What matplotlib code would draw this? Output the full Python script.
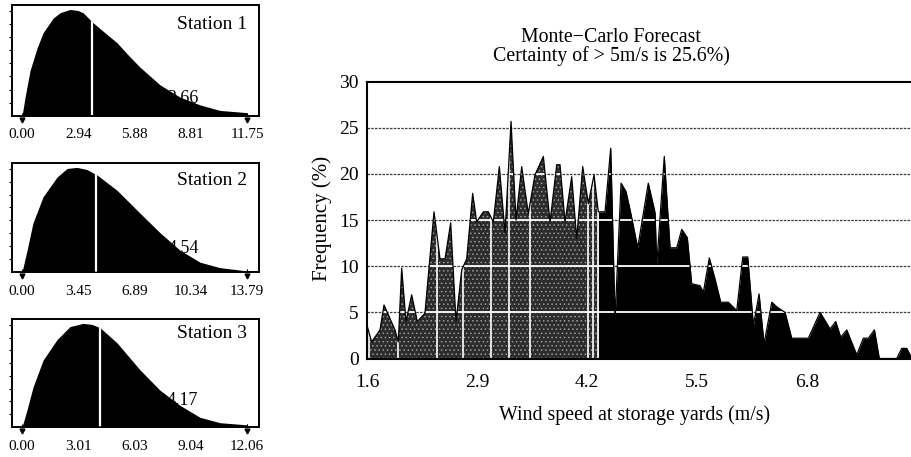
import matplotlib.pyplot as plt
import numpy as np
from matplotlib.patches import Polygon
from matplotlib.ticker import MultipleLocator, AutoMinorLocator

plt.rcParams['font.family'] = ['Liberation Serif', 'DejaVu Serif']
plt.rcParams['hatch.linewidth'] = 0.6

# %% Data
# fitted wind speed distributions per station (relative height)
station_names = ['Station 1', 'Station 2', 'Station 3']
station_means = [3.66, 4.54, 4.17]
station_ticks = [
    [0.00, 2.94, 5.88, 8.81, 11.75],
    [0.00, 3.45, 6.89, 10.34, 13.79],
    [0.00, 3.01, 6.03, 9.04, 12.06],
]
st1_x = [0, 0.16, 0.42, 0.78, 1.10, 1.62, 1.98, 2.51, 2.92, 3.19, 3.71, 4.33, 4.96, 5.54, 6.16, 7.21, 8.25, 9.29, 10.34, 11.75]
st1_y = [0, 0.17, 0.41, 0.61, 0.75, 0.88, 0.93, 0.96, 0.95, 0.93, 0.84, 0.75, 0.66, 0.55, 0.44, 0.28, 0.17, 0.10, 0.05, 0.03]
st2_x = [0, 0.31, 0.67, 1.29, 2.14, 2.76, 3.37, 3.98, 4.60, 5.82, 7.23, 8.46, 9.68, 10.91, 12.13, 13.79]
st2_y = [0, 0.20, 0.45, 0.69, 0.87, 0.95, 0.96, 0.94, 0.89, 0.75, 0.54, 0.36, 0.20, 0.09, 0.04, 0.01]
st3_x = [0, 0.27, 0.59, 1.13, 1.88, 2.57, 3.27, 3.75, 4.18, 5.09, 6.32, 7.40, 8.47, 9.54, 10.61, 12.06]
st3_y = [0, 0.16, 0.37, 0.62, 0.81, 0.93, 0.96, 0.95, 0.92, 0.78, 0.53, 0.34, 0.20, 0.09, 0.04, 0.02]
station_curves = [(st1_x, st1_y), (st2_x, st2_y), (st3_x, st3_y)]

# Monte-Carlo histogram of wind speed at the storage yards
speed = np.array([
    1.60, 1.655, 1.754, 1.801, 1.931, 1.970, 2.010, 2.061, 2.128, 2.195,
    2.285, 2.392, 2.463, 2.522, 2.589, 2.652, 2.719, 2.778, 2.849, 2.896,
    2.975, 3.034, 3.093, 3.164, 3.231, 3.302, 3.361, 3.428, 3.506, 3.585,
    3.684, 3.763, 3.842, 3.881, 3.940, 4.019, 4.078, 4.149, 4.215, 4.283,
    4.333, 4.413, 4.480, 4.531, 4.602, 4.661, 4.716, 4.799, 4.924, 5.004,
    5.024, 5.113, 5.181, 5.260, 5.319, 5.385, 5.437, 5.535, 5.575, 5.645,
    5.713, 5.780, 5.870, 5.969, 6.040, 6.099, 6.166, 6.233, 6.292, 6.383,
    6.442, 6.540, 6.619, 6.815, 6.954, 7.072, 7.139, 7.198, 7.269, 7.387,
    7.465, 7.524, 7.596, 7.654, 7.860, 7.919, 7.978, 8.04,
])
freq = np.array([
    3.6, 1.8, 3.1, 5.8, 3.1, 1.8, 9.8, 4.0, 6.9, 4.0,
    4.9, 15.9, 10.8, 10.8, 14.7, 4.0, 9.6, 10.8, 17.9, 14.8,
    15.9, 15.9, 14.8, 20.8, 13.6, 25.7, 15.0, 20.8, 15.7, 19.9,
    21.9, 14.8, 21.0, 21.0, 14.8, 19.7, 13.0, 20.8, 16.8, 19.9,
    15.9, 15.9, 22.8, 4.3, 19.0, 18.1, 15.8, 12.0, 19.0, 15.8,
    10.2, 21.9, 12.0, 12.0, 14.0, 13.1, 8.1, 7.9, 7.2, 10.9,
    8.6, 6.1, 6.1, 5.2, 11.0, 11.0, 3.6, 7.0, 1.6, 6.1,
    5.6, 5.0, 2.2, 2.2, 5.0, 3.2, 4.0, 2.3, 3.1, 0.4,
    2.2, 2.2, 3.1, 0.0, 0.0, 1.1, 1.1, 0.0,
])
certainty_edge = 4.333
white_cuts = [1.624, 1.966, 2.427, 2.735, 3.065, 3.278, 3.526, 4.212, 4.27, 4.333]
speed_ticks = [1.6, 2.9, 4.2, 5.5, 6.8]

# %% Figure
fig = plt.figure(figsize=(9.12, 4.57), dpi=100)

left_boxes = [
    [0.0132, 0.7462, 0.2708, 0.2429],
    [0.0132, 0.4048, 0.2708, 0.2385],
    [0.0132, 0.0656, 0.2708, 0.2363],
]
name_y = [0.82, 0.84, 0.87]
mean_lab = [(7.57, 0.16), (8.95, 0.22), (7.77, 0.25)]

for box, name, mean, ticks, (cx, cy), ny, (lx, ly) in zip(
        left_boxes, station_names, station_means, station_ticks,
        station_curves, name_y, mean_lab):
    a = fig.add_axes(box)
    end = ticks[-1]
    a.set_xlim(-0.0444 * end, 1.0533 * end)
    a.set_ylim(0, 1.0)
    a.fill_between(cx, cy, color='black', lw=0, zorder=2)
    shape = Polygon(np.column_stack([cx, cy]), closed=True, fill=False, lw=0)
    a.add_patch(shape)
    wl = a.axvline(mean, color='white', lw=1.6, zorder=3)
    wl.set_clip_path(shape)
    a.text(0.951, ny, name, transform=a.transAxes, ha='right', va='center', fontsize=14)
    a.text(lx, ly, f'{mean:.2f}', ha='left', va='center', fontsize=13, zorder=1)
    a.plot([0, end], [-0.035, -0.035], 'v', color='black', ms=3.5, clip_on=False)
    a.set_xticks(ticks)
    a.set_xticklabels([f'{t:.2f}' for t in ticks], fontsize=11)
    a.xaxis.set_minor_locator(AutoMinorLocator(2))
    a.tick_params(axis='x', which='both', direction='in', length=2, pad=9)
    a.set_yticks(np.arange(0.12, 1.0, 0.118))
    a.set_yticklabels([])
    a.tick_params(axis='y', direction='out', length=2.5, width=0.8)
    for s in a.spines.values():
        s.set_linewidth(1.4)

# %% Monte-Carlo histogram
ax = fig.add_axes([0.4024, 0.2155, 0.5976, 0.6057])
ax.set_xlim(1.6, 8.04)
ax.set_ylim(0, 30)

ax.fill_between(speed, freq, where=speed <= certainty_edge, facecolor='#2c2c2c',
                edgecolor='#9a9a9a', hatch='....', lw=0, zorder=2)
ax.fill_between(speed, freq, where=speed >= certainty_edge, color='black', lw=0, zorder=2)
ax.plot(speed, freq, color='black', lw=0.9, zorder=5)

shape = Polygon(np.column_stack([np.r_[speed, speed[-1], speed[0]], np.r_[freq, 0, 0]]),
                closed=True, fill=False, lw=0)
ax.add_patch(shape)

for yv in [5, 10, 15, 20, 25]:
    ax.axhline(yv, color='#3a3a3a', lw=0.9, ls=(0, (2, 1)), zorder=1)
    gl = ax.axhline(yv, color='white', lw=1.3, zorder=4)
    gl.set_clip_path(shape)
for xv in white_cuts:
    vl = ax.axvline(xv, color='white', lw=1.2, zorder=4)
    vl.set_clip_path(shape)

ax.set_yticks(range(0, 31, 5))
ax.tick_params(axis='y', length=0, pad=6, labelsize=14)
ax.set_xticks(speed_ticks)
ax.xaxis.set_minor_locator(MultipleLocator(0.65, offset=1.6))
ax.tick_params(axis='x', which='both', direction='in', length=4, color='white',
               pad=11, labelsize=14)
ax.spines['right'].set_visible(False)
for k in ['left', 'top', 'bottom']:
    ax.spines[k].set_linewidth(1.5)
    ax.spines[k].set_zorder(6)

fig.text(611 / 912, 1 - 38 / 457, 'Monte\u2212Carlo Forecast', ha='center', va='center', fontsize=14.3)
fig.text(611 / 912, 1 - 56 / 457, 'Certainty of > 5m/s is 25.6%)', ha='center', va='center', fontsize=14.3)
fig.text(322 / 912, 1 - 218 / 457, 'Frequency (%)', rotation=90, ha='center', va='center', fontsize=15)
fig.text(635 / 912, 1 - 415 / 457, 'Wind speed at storage yards (m/s)', ha='center', va='center', fontsize=14.3)

fig.savefig('out.png', dpi=100)
